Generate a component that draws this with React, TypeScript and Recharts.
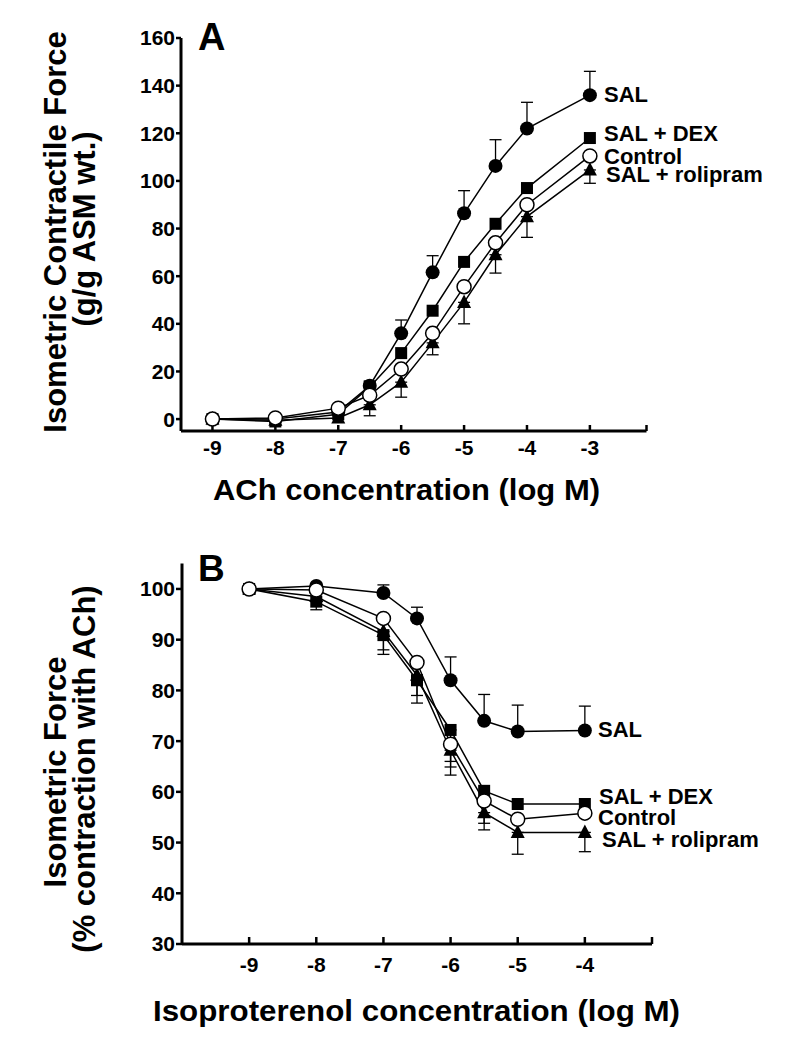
import { LineChart, Line, XAxis, YAxis, ErrorBar } from "recharts";

// ── Panel A: ACh concentration-response ──
const achDose = [-9, -8, -7, -6.5, -6, -5.5, -5, -4.5, -4, -3];
const achSal = [0, 0, 3, 14, 36, 61.6, 86.4, 106.3, 122, 136];
const achSalErr = [0, 0, 0, 2, 5.6, 7, 9.5, 11, 11, 10];
const achDex = [0, -1, 2, 13.5, 27.7, 45.5, 66, 82, 97, 118];
const achControl = [0, 0.5, 4.6, 10, 21, 36, 55.6, 74, 90, 110.5];
const achRoli = [0, -0.5, 0.5, 6, 15.5, 32, 49, 69, 85, 104.6];
const achRoliErr = [0, 0, 0, 4.6, 6.3, 5, 9, 7.7, 8.7, 5.6];
const achXTicks = [-9, -8, -7, -6, -5, -4, -3];
const achYTicks = [0, 20, 40, 60, 80, 100, 120, 140, 160];

// ── Panel B: isoproterenol relaxation ──
const isoDose = [-9, -8, -7, -6.5, -6, -5.5, -5, -4];
const isoSal = [100, 100.6, 99.2, 94.2, 82, 74, 71.9, 72.1];
const isoSalErr = [0, 0, 1.6, 2.2, 4.6, 5.2, 5.2, 4.8];
const isoDex = [100, 97.5, 90.9, 82, 72.2, 60.2, 57.6, 57.6];
const isoDexErr = [0, 1.6, 3.8, 4.5, 6.2, 0, 0, 0];
const isoControl = [100, 99.8, 94.2, 85.5, 69.4, 58.2, 54.6, 55.8];
const isoControlErr = [0, 0, 0, 0, 4.5, 4.4, 0, 0];
const isoRoli = [100, 98.5, 91.6, 83, 68.2, 55.9, 52, 52];
const isoRoliErr = [0, 0, 3.6, 4, 4.9, 3.4, 4.3, 3.8];
const isoXTicks = [-9, -8, -7, -6, -5, -4];
const isoYTicks = [30, 40, 50, 60, 70, 80, 90, 100];

const FONT = "'Liberation Sans', Arial, Helvetica, sans-serif";
const up = (e: number) => (e ? [0, e] : null);
const down = (e: number) => (e ? [e, 0] : null);

const achRows = achDose.map((dose, i) => ({
  dose,
  sal: achSal[i], salErr: up(achSalErr[i]),
  dex: achDex[i],
  control: achControl[i],
  roli: achRoli[i], roliErr: down(achRoliErr[i]),
}));

const isoRows = isoDose.map((dose, i) => ({
  dose,
  sal: isoSal[i], salErr: up(isoSalErr[i]),
  dex: isoDex[i], dexErr: down(isoDexErr[i]),
  control: isoControl[i], controlErr: down(isoControlErr[i]),
  roli: isoRoli[i], roliErr: down(isoRoliErr[i]),
}));

// markers
const dotCircle = (p: any) =>
  p.cx == null ? null : <circle key={`c${p.index}`} cx={p.cx} cy={p.cy} r={7} fill="#000" />;
const dotSquare = (p: any) =>
  p.cx == null ? null : <rect key={`s${p.index}`} x={p.cx - 6} y={p.cy - 6} width={12} height={12} fill="#000" />;
const dotTriangle = (p: any) =>
  p.cx == null ? null : (
    <polygon key={`t${p.index}`} points={`${p.cx},${p.cy - 8} ${p.cx + 7},${p.cy + 5.5} ${p.cx - 7},${p.cy + 5.5}`} fill="#000" />
  );
const dotOpen = (p: any) =>
  p.cx == null ? null : <circle key={`o${p.index}`} cx={p.cx} cy={p.cy} r={7} fill="#fff" stroke="#000" strokeWidth={1.5} />;

const tickStyle = { fontSize: 21, fontWeight: 700, fill: "#000", fontFamily: FONT };
const axisLine = { stroke: "#000", strokeWidth: 3 };
const tickLine = { stroke: "#000", strokeWidth: 2.5 };
const bold = { fontFamily: FONT, fontWeight: 700, fill: "#000" } as const;

const NotesA = () => (
  <g>
    <text x={198} y={50} fontSize={38} {...bold}>A</text>
    <g transform="rotate(-90 66 232)">
      <text x={66} y={232} textAnchor="middle" fontSize={31} {...bold}>Isometric Contractile Force</text>
    </g>
    <g transform="rotate(-90 95 229)">
      <text x={95} y={229} textAnchor="middle" fontSize={31} {...bold}>(g/g ASM wt.)</text>
    </g>
    <text x={406.5} y={500} textAnchor="middle" fontSize={30} textLength={387} lengthAdjust="spacingAndGlyphs" {...bold}>
      ACh concentration (log M)
    </text>
    <text x={604} y={102} fontSize={22} {...bold}>SAL</text>
    <text x={604} y={141} fontSize={22} {...bold}>SAL + DEX</text>
    <text x={604} y={164} fontSize={22} {...bold}>Control</text>
    <text x={606} y={182} fontSize={22} {...bold}>SAL + rolipram</text>
  </g>
);

const NotesB = () => (
  <g>
    <text x={198} y={51} fontSize={37} {...bold}>B</text>
    <g transform="rotate(-90 66 242)">
      <text x={66} y={242} textAnchor="middle" fontSize={31} {...bold}>Isometric Force</text>
    </g>
    <g transform="rotate(-90 95 239)">
      <text x={95} y={239} textAnchor="middle" fontSize={31} {...bold}>(% contraction with ACh)</text>
    </g>
    <text x={416.5} y={491} textAnchor="middle" fontSize={30} textLength={527} lengthAdjust="spacingAndGlyphs" {...bold}>
      Isoproterenol concentration (log M)
    </text>
    <text x={598} y={207} fontSize={22} {...bold}>SAL</text>
    <text x={599} y={274} fontSize={22} {...bold}>SAL + DEX</text>
    <text x={598} y={295} fontSize={22} {...bold}>Control</text>
    <text x={602} y={317} fontSize={22} {...bold}>SAL + rolipram</text>
  </g>
);

const errProps = { width: 6, stroke: "#000", strokeWidth: 1.3, direction: "y" as const, isAnimationActive: false };
const lineProps = { type: "linear" as const, stroke: "#000", strokeWidth: 1.5, activeDot: false, isAnimationActive: false };

export default function App() {
  return (
    <div style={{ position: "absolute", left: 0, top: 0, width: 788, height: 1050, background: "#fff" }}>
      <div style={{ position: "absolute", left: 0, top: 0 }}>
        <LineChart width={788} height={520} data={achRows} margin={{ top: 38, right: 141.5, bottom: 29, left: 0 }}>
          <XAxis
            type="number" dataKey="dose" domain={[-9.5, -2.1]} ticks={[...achXTicks, -2.1]}
            tickFormatter={(v: number) => (achXTicks.includes(v) ? String(v) : "")}
            interval={0} height={60} tickSize={-6} tickMargin={15}
            tick={tickStyle} axisLine={axisLine} tickLine={tickLine}
            label={{ content: () => <NotesA /> }}
          />
          <YAxis
            type="number" domain={[-5, 160]} ticks={achYTicks} interval={0} width={181}
            tickSize={5} tickMargin={1} tick={tickStyle} axisLine={axisLine} tickLine={tickLine}
          />
          <Line dataKey="sal" {...lineProps} dot={dotCircle}>
            <ErrorBar dataKey="salErr" {...errProps} />
          </Line>
          <Line dataKey="dex" {...lineProps} dot={dotSquare} />
          <Line dataKey="roli" {...lineProps} dot={dotTriangle}>
            <ErrorBar dataKey="roliErr" {...errProps} />
          </Line>
          <Line dataKey="control" {...lineProps} dot={dotOpen} />
        </LineChart>
      </div>
      <div style={{ position: "absolute", left: 0, top: 530 }}>
        <LineChart width={788} height={520} data={isoRows} margin={{ top: 33.6, right: 136, bottom: 46, left: 0 }}>
          <XAxis
            type="number" dataKey="dose" domain={[-10, -3]} ticks={[...isoXTicks, -3]}
            tickFormatter={(v: number) => (isoXTicks.includes(v) ? String(v) : "")}
            interval={0} height={60} tickSize={-7} tickMargin={20}
            tick={tickStyle} axisLine={axisLine} tickLine={tickLine}
            label={{ content: () => <NotesB /> }}
          />
          <YAxis
            type="number" domain={[30, 105]} ticks={isoYTicks} interval={0} width={182}
            tickSize={6} tickMargin={1} tick={tickStyle} axisLine={axisLine} tickLine={tickLine}
          />
          <Line dataKey="sal" {...lineProps} dot={dotCircle}>
            <ErrorBar dataKey="salErr" {...errProps} />
          </Line>
          <Line dataKey="dex" {...lineProps} dot={dotSquare}>
            <ErrorBar dataKey="dexErr" {...errProps} />
          </Line>
          <Line dataKey="roli" {...lineProps} dot={dotTriangle}>
            <ErrorBar dataKey="roliErr" {...errProps} />
          </Line>
          <Line dataKey="control" {...lineProps} dot={dotOpen}>
            <ErrorBar dataKey="controlErr" {...errProps} />
          </Line>
        </LineChart>
      </div>
    </div>
  );
}
